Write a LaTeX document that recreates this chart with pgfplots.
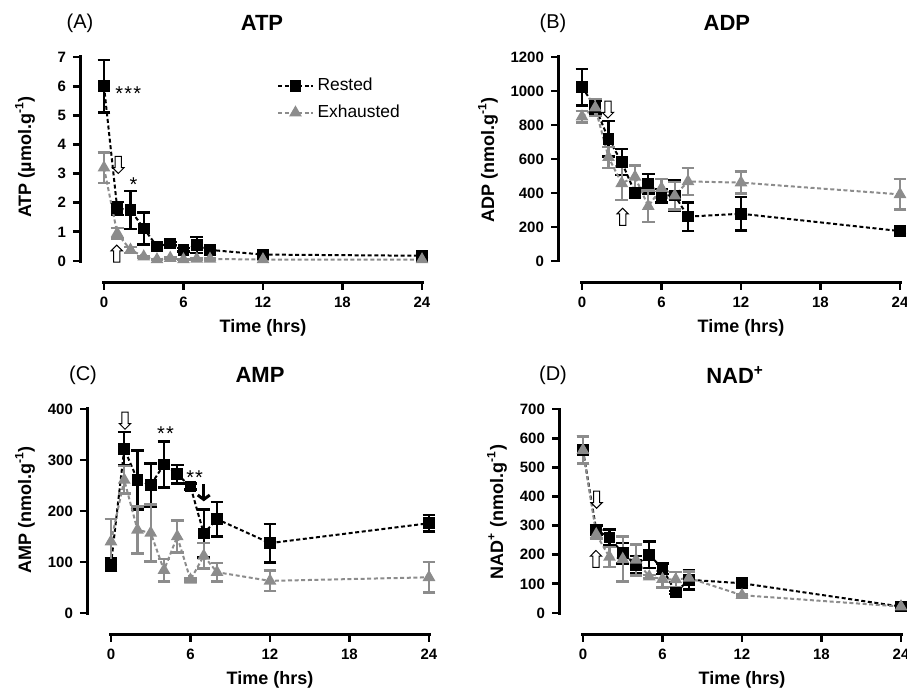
\documentclass[border=0pt]{standalone}
\usepackage{fontspec}
\setmainfont{Liberation Sans}
\usepackage{pgfplots}
\pgfplotsset{compat=1.18}
\usetikzlibrary{shapes.arrows,arrows.meta}
\definecolor{exg}{RGB}{140,140,140}
\tikzset{
  openarrow/.style={single arrow, draw=black, fill=white, line width=0.5pt, inner sep=1.3pt, minimum width=0pt, minimum height=8.5pt, single arrow head extend=1.3pt},
  stars/.style={font=\fontsize{10}{10}\selectfont, inner sep=0pt, anchor=base west},
  panelletter/.style={font=\fontsize{10}{12}\selectfont, anchor=center},
}
\pgfplotsset{
  panel/.style={
    scale only axis, width=171pt, height=113pt,
    xmin=-1.81, xmax=24, xtick={0,6,12,18,24},
    axis x line*=bottom, axis y line*=left,
    axis line style={draw=none},
    tick align=outside, major tick length=3.5pt,
    tick style={black, line width=1.4pt},
    minor tick num=0,
    ticklabel style={font=\fontsize{7.5}{8}\selectfont\bfseries},
    /pgf/number format/assume math mode=true,
    /pgf/number format/1000 sep={},
    scaled ticks=false, clip=false,
    xlabel={Time (hrs)},
    xlabel style={at={(rel axis cs:0.535,0)}, anchor=center, yshift=-22.5pt, font=\fontsize{9}{10}\selectfont\bfseries},
    ylabel style={anchor=center, font=\fontsize{9}{10}\selectfont\bfseries},
    title style={anchor=center, yshift=11pt, font=\fontsize{11}{12}\selectfont\bfseries},
  },
  rested/.style={black, line width=1pt, dash pattern=on 2pt off 1.3pt,
    mark=square*, mark size=2.4pt, mark options={solid, fill=black},
    error bars/.cd, y dir=both, y explicit,
    error bar style={solid, line width=1.2pt, black},
    error mark options={solid, rotate=90, mark size=3.2pt, line width=1.2pt, black}},
  exhausted/.style={exg, line width=1pt, dash pattern=on 2pt off 1.3pt,
    mark=triangle*, mark size=2.7pt, mark options={solid, fill=exg, draw=exg},
    error bars/.cd, y dir=both, y explicit,
    error bar style={solid, line width=1.2pt, exg},
    error mark options={solid, rotate=90, mark size=3.2pt, line width=1.2pt, exg}},
}
\newcommand{\spines}{%
  \draw[line width=1.5pt, line cap=rect] (rel axis cs:0.0701,0) -- (rel axis cs:1,0);
  \draw[line width=1.5pt, line cap=rect] (rel axis cs:0,0.0973) -- (rel axis cs:0,1);}

\begin{document}
\begin{tikzpicture}
\path[use as bounding box] (0,0) rectangle (453.5pt,345pt);

% ---------------- (A) ATP ----------------
\begin{axis}[panel, at={(40pt,203.5pt)},
  ymin=-0.755, ymax=7, ytick={0,1,2,3,4,5,6,7},
  title={ATP}, title style={at={(rel axis cs:0.532,1)}},
  ylabel={ATP (µmol.g\textsuperscript{-1})},
  ylabel style={at={([xshift=-27.5pt]rel axis cs:0,0.558)}},
  legend style={at={(0.576,0.925)}, anchor=north west, draw=none, fill=none,
    inner sep=0pt, row sep=1.5pt, font=\fontsize{8.7}{9}\selectfont, cells={anchor=west}}]
\addplot[rested] table[y error=e] {
t y e
0 6.0 0.9
1 1.8 0.22
2 1.75 0.65
3 1.12 0.55
4 0.5 0.06
5 0.6 0.06
6 0.38 0.06
7 0.55 0.27
8 0.38 0.15
12 0.22 0.05
24 0.18 0.05
};
\addlegendentry{Rested}
\addplot[exhausted] table[y error=e] {
t y e
0 3.2 0.52
1 0.95 0.18
2 0.38 0.1
3 0.15 0.03
4 0.05 0.02
5 0.1 0.02
6 0.05 0.02
7 0.07 0.02
8 0.07 0.02
12 0.05 0.02
24 0.05 0.02
};
\addlegendentry{Exhausted}
\spines
\node[panelletter] at ([yshift=17pt]rel axis cs:0,1) {(A)};
\node[stars] at (axis cs:0.83,5.52) {*\kern0.6pt*\kern0.6pt*};
\node[stars] at (axis cs:1.9,2.37) {*};
\node[openarrow, rotate=-90] at (axis cs:1.08,3.35) {};
\node[openarrow, rotate=90] at (axis cs:0.96,0.2) {};
\end{axis}

% ---------------- (B) ADP ----------------
\begin{axis}[panel, at={(279pt,203.5pt)},
  ymin=-129.4, ymax=1200, ytick={0,200,400,600,800,1000,1200},
  title={ADP}, title style={at={(rel axis cs:0.494,1)}},
  ylabel={ADP (nmol.g\textsuperscript{-1})},
  ylabel style={at={([xshift=-35pt]rel axis cs:0,0.544)}}]
\addplot[rested] table[y error=e] {
t y e
0 1023 108
1 905 38
2 718 104
3 582 77
4 401 26
5 455 57
6 385 40
7 386 88
8 261 83
12 278 98
24 176 10
};
\addplot[exhausted] table[y error=e] {
t y e
0 849 35
1 902 50
2 610 62
3 457 99
4 495 67
5 322 92
6 428 55
7 384 80
8 468 80
12 461 65
24 392 90
};
\spines
\node[panelletter] at ([xshift=-2.5pt,yshift=17pt]rel axis cs:0,1) {(B)};
\node[openarrow, rotate=-90] at (axis cs:1.96,900) {};
\node[openarrow, rotate=90] at (axis cs:3.07,251) {};
\end{axis}

% ---------------- (C) AMP ----------------
\begin{axis}[panel, at={(43.5pt,27.5pt)},
  ymin=-43.1, ymax=400, ytick={0,100,200,300,400},
  title={AMP}, title style={at={(rel axis cs:0.506,1)}},
  ylabel={AMP (nmol.g\textsuperscript{-1})},
  ylabel style={at={([xshift=-31pt]rel axis cs:0,0.553)}}]
\addplot[rested] table[y error=e] {
t y e
0 95 12
1 322 33
2 261 58
3 251 42
4 291 45
5 272 18
6 248 6
7 156 47
8 184 34
12 137 38
24 176 16
};
\addplot[exhausted] table[y error=e] {
t y e
0 140 44
1 261 27
2 163 46
3 157 56
4 84 22
5 150 31
6 65 3
7 112 25
8 80 18
12 63 20
24 70 30
};
\spines
\node[panelletter] at ([xshift=-2pt,yshift=17pt]rel axis cs:0,1) {(C)};
\node[openarrow, rotate=-90] at (axis cs:1.06,380) {};
\node[stars] at (axis cs:3.45,339) {*\kern0.6pt*};
\node[stars] at (axis cs:5.65,251) {*\kern0.6pt*};
\draw[line width=1.5pt, -{Straight Barb[length=2.2pt, width=6pt, line width=1.5pt]}] (axis cs:7,252) -- (axis cs:7,219);
\end{axis}

% ---------------- (D) NAD+ ----------------
\begin{axis}[panel, at={(279.5pt,27.5pt)},
  ymin=-75.5, ymax=700, ytick={0,100,200,300,400,500,600,700},
  title={NAD\textsuperscript{+}}, title style={at={(rel axis cs:0.515,1)}},
  ylabel={NAD\textsuperscript{+} (nmol.g\textsuperscript{-1})},
  ylabel style={at={([xshift=-31pt]rel axis cs:0,0.544)}}]
\addplot[rested] table[y error=e] {
t y e
0 559 46
1 285 15
2 259 28
3 205 35
4 165 30
5 200 45
6 152 18
7 71 5
8 114 33
12 102 5
24 22 3
};
\addplot[exhausted] table[y error=e] {
t y e
0 559 46
1 270 15
2 192 35
3 185 77
4 182 53
5 125 5
6 116 28
7 115 26
8 120 23
12 61 5
24 22 3
};
\spines
\node[panelletter] at ([xshift=-3pt,yshift=17pt]rel axis cs:0,1) {(D)};
\node[openarrow, rotate=-90] at (axis cs:1.03,394) {};
\node[openarrow, rotate=90] at (axis cs:0.98,180) {};
\end{axis}
\end{tikzpicture}
\end{document}
